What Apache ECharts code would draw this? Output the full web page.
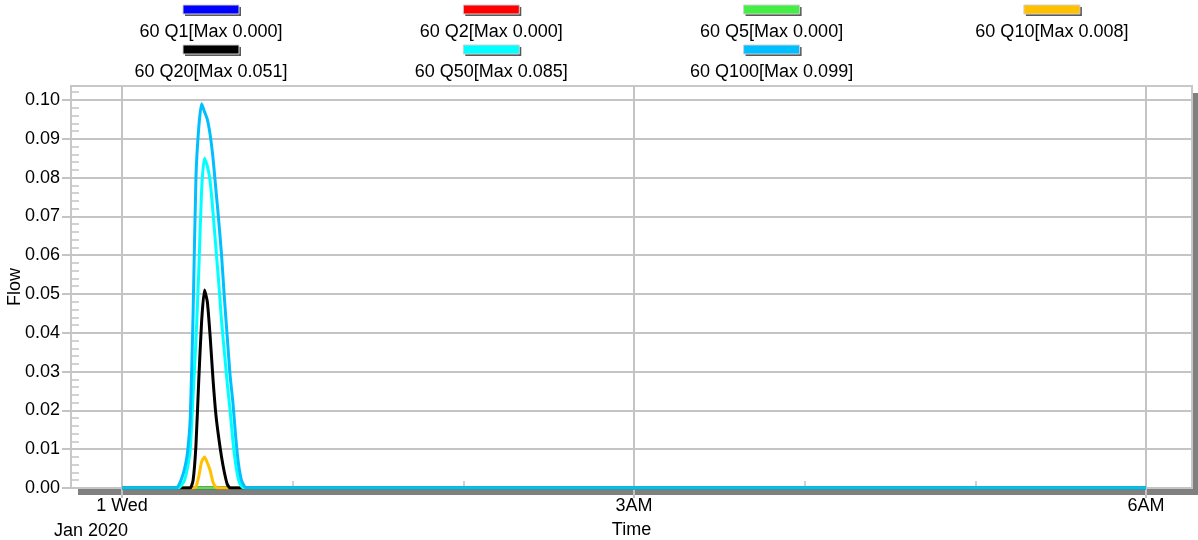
<!DOCTYPE html>
<html>
<head>
<meta charset="utf-8">
<script src="https://cdn.jsdelivr.net/npm/echarts@6/dist/echarts.min.js"></script>
<style>
  html, body { margin: 0; padding: 0; background: #fff; }
  #chart { width: 1198px; height: 540px; }
</style>
</head>
<body>
<div id="chart"></div>
<script>
// Time in minutes after midnight, 1 Jan 2020
const minutes = [0, 18, 19, 20, 21, 22, 23, 24, 25, 26, 27, 28, 29, 30, 31, 32, 33, 34, 35, 36, 37, 38, 39, 40, 41, 42, 43, 44, 360];

// Flow per return period (same length as minutes)
const q1   = [0, 0, 0, 0, 0, 0, 0, 0, 0, 0, 0, 0, 0, 0, 0, 0, 0, 0, 0, 0, 0, 0, 0, 0, 0, 0, 0, 0, 0];
const q2   = [0, 0, 0, 0, 0, 0, 0, 0, 0, 0, 0, 0, 0, 0, 0, 0, 0, 0, 0, 0, 0, 0, 0, 0, 0, 0, 0, 0, 0];
const q5   = [0, 0, 0, 0, 0, 0, 0, 0, 0, 0, 0, 0, 0, 0, 0, 0, 0, 0, 0, 0, 0, 0, 0, 0, 0, 0, 0, 0, 0];
const q10  = [0, 0, 0, 0, 0, 0, 0, 0, 0, 0.0003, 0.003, 0.0068, 0.008, 0.0065, 0.0045, 0.0015, 0.0002, 0, 0, 0, 0, 0, 0, 0, 0, 0, 0, 0, 0];
const q20  = [0, 0, 0, 0, 0, 0, 0, 0, 0.002, 0.011, 0.028, 0.043, 0.051, 0.048, 0.039, 0.028, 0.019, 0.013, 0.008, 0.004, 0.001, 0, 0, 0, 0, 0, 0, 0, 0];
const q50  = [0, 0, 0, 0, 0.0008, 0.002, 0.005, 0.010, 0.024, 0.038, 0.056, 0.077, 0.085, 0.083, 0.079, 0.071, 0.062, 0.053, 0.043, 0.035, 0.027, 0.020, 0.012, 0.006, 0.002, 0.0004, 0, 0, 0];
const q100 = [0, 0, 0, 0.0008, 0.0025, 0.005, 0.009, 0.018, 0.045, 0.080, 0.093, 0.099, 0.097, 0.095, 0.091, 0.085, 0.077, 0.069, 0.060, 0.049, 0.039, 0.029, 0.022, 0.013, 0.006, 0.002, 0.0005, 0, 0];

const seriesNames  = ['60 Q1', '60 Q2', '60 Q5', '60 Q10', '60 Q20', '60 Q50', '60 Q100'];
const seriesValues = [q1, q2, q5, q10, q20, q50, q100];
const seriesColors = ['#0000ff', '#ff0000', '#44ee44', '#ffc000', '#000000', '#00ffff', '#00bfff'];

// Axis ticks and labels
const xTickValues  = [0, 180, 360];
const xTickLabels  = ['1 Wed', '3AM', '6AM'];
const xMinorTicks  = [60, 120, 240, 300];
const yTickValues  = [0, 0.01, 0.02, 0.03, 0.04, 0.05, 0.06, 0.07, 0.08, 0.09, 0.10];

const FONT = '"Liberation Sans", Arial, sans-serif';
const GRID_COLOR = '#c4c4c4';
const X_MIN = -17.93, X_MAX = 376.2;
const Y_MIN = 0, Y_MAX = 0.1036;

// Plot frame box in pixels
const PLOT = { left: 71, top: 86, right: 1192, bottom: 488 };

const chart = echarts.init(document.getElementById('chart'), null, { renderer: 'canvas' });

const graphics = [];
// Frame with a flat drop shadow at bottom/right
graphics.push({
  type: 'rect', z: -20, silent: true,
  shape: { x: PLOT.left + 7, y: PLOT.top + 7, width: PLOT.right - PLOT.left, height: PLOT.bottom - PLOT.top },
  style: { fill: '#808080' }
});
graphics.push({
  type: 'rect', z: -10, silent: true,
  shape: { x: PLOT.left, y: PLOT.top, width: PLOT.right - PLOT.left, height: PLOT.bottom - PLOT.top },
  style: { fill: '#ffffff', stroke: '#c8c8c8', lineWidth: 2 }
});

// Legend drawn as swatch-over-label entries in a 4-column layout
seriesNames.forEach((name, i) => {
  const col = i % 4, row = Math.floor(i / 4);
  const cx = 211 + col * 280.3;
  const sy = 5 + row * 40;
  const maxVal = Math.max.apply(null, seriesValues[i]);
  graphics.push({
    type: 'rect', shape: { x: cx - 28 + 2, y: sy + 2, width: 56, height: 9 },
    style: { fill: '#5a5a5a' }, silent: true
  });
  graphics.push({
    type: 'rect', shape: { x: cx - 28, y: sy, width: 56, height: 9 },
    style: { fill: seriesColors[i], stroke: '#d0d0d0', lineWidth: 1 }, silent: true
  });
  graphics.push({
    type: 'text', x: cx, y: sy + 27,
    style: { text: name + '[Max ' + maxVal.toFixed(3) + ']', font: '18px ' + FONT, fill: '#000',
             textAlign: 'center', textVerticalAlign: 'middle' },
    silent: true
  });
});
graphics.push({
  type: 'text', x: 91, y: 531,
  style: { text: 'Jan 2020', font: '18px ' + FONT, fill: '#000', textAlign: 'center', textVerticalAlign: 'middle' },
  silent: true
});

const option = {
  animation: false,
  backgroundColor: '#ffffff',
  textStyle: { fontFamily: FONT },
  grid: {
    left: PLOT.left, right: 1198 - PLOT.right, top: PLOT.top, bottom: 540 - PLOT.bottom,
    show: false, containLabel: false, outerBoundsMode: 'none'
  },
  xAxis: [
    {
      type: 'value', min: X_MIN, max: X_MAX,
      name: 'Time', nameLocation: 'middle', nameGap: 33, nameMoveOverlap: false,
      nameTextStyle: { fontSize: 18, color: '#000', fontFamily: FONT },
      axisLine: { show: false, onZero: false },
      axisTick: { show: true, customValues: xTickValues, length: 10, lineStyle: { color: GRID_COLOR, width: 2 } },
      splitLine: { show: true, lineStyle: { color: GRID_COLOR, width: 2 } },
      axisLabel: {
        customValues: xTickValues, margin: 9, fontSize: 18, color: '#000', fontFamily: FONT,
        formatter: v => xTickLabels[xTickValues.indexOf(v)] || ''
      }
    },
    {
      type: 'value', min: X_MIN, max: X_MAX, position: 'bottom',
      axisLine: { show: false, onZero: false },
      axisTick: { show: true, customValues: xMinorTicks, inside: true, length: 7, lineStyle: { color: GRID_COLOR, width: 1.5 } },
      axisLabel: { show: false },
      splitLine: { show: false }
    }
  ],
  yAxis: [
    {
      type: 'value', min: Y_MIN, max: Y_MAX,
      name: 'Flow', nameLocation: 'middle', nameGap: 47, nameRotate: 90, nameMoveOverlap: false,
      nameTextStyle: { fontSize: 18, color: '#000', fontFamily: FONT },
      axisLine: { show: false, onZero: false },
      axisTick: { show: true, customValues: yTickValues, length: 9, lineStyle: { color: GRID_COLOR, width: 2 } },
      splitLine: { show: true, lineStyle: { color: GRID_COLOR, width: 2 } },
      axisLabel: {
        customValues: yTickValues, margin: 11, fontSize: 18, color: '#000', fontFamily: FONT,
        formatter: v => v.toFixed(2)
      }
    },
    {
      type: 'value', min: Y_MIN, max: Y_MAX, interval: 0.002, position: 'left',
      axisLine: { show: false, onZero: false },
      axisTick: { show: true, inside: true, length: 8, lineStyle: { color: GRID_COLOR, width: 1.5 } },
      axisLabel: { show: false },
      splitLine: { show: false }
    }
  ],
  graphic: graphics,
  series: seriesNames.map((name, i) => ({
    name: name,
    type: 'line',
    xAxisIndex: 0, yAxisIndex: 0,
    data: minutes.map((t, k) => [t, seriesValues[i][k]]),
    showSymbol: false,
    symbol: 'none',
    smooth: 0.2,
    lineStyle: { color: seriesColors[i], width: 3 },
    itemStyle: { color: seriesColors[i] },
    z: 2 + i
  }))
};

chart.setOption(option);
</script>
</body>
</html>
